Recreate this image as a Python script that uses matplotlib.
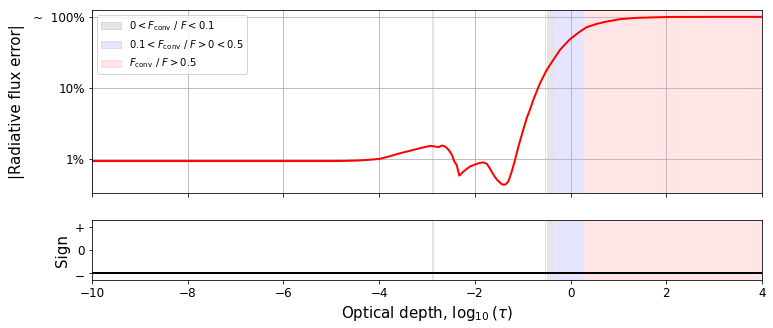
import numpy as np
import matplotlib
matplotlib.use('Agg')
import matplotlib.pyplot as plt
from matplotlib.patches import Patch
from matplotlib.ticker import NullLocator

# curve: log10(tau) vs |error| in percent
log_tau = [-10, -6, -5, -4.7, -4.4, -4.2, -3.98, -3.77, -3.56, -3.35, -3.15,
           -2.94, -2.85, -2.76, -2.69, -2.63, -2.58, -2.53, -2.48, -2.43, -2.38,
           -2.325, -2.28, -2.24, -2.17, -2.10, -1.96, -1.88, -1.82, -1.75,
           -1.70, -1.65, -1.60, -1.54, -1.44, -1.39, -1.35, -1.30, -1.23, -1.16,
           -1.09, -0.99, -0.917, -0.85, -0.778, -0.639, -0.499, -0.36, -0.221,
           -0.012, 0.197, 0.337, 0.546, 0.755, 1.03, 1.38, 2.01, 3.0, 4.0]
abs_err = [0.93, 0.93, 0.93, 0.935, 0.95, 0.97, 1.0, 1.09, 1.2, 1.3, 1.41,
           1.52, 1.5, 1.46, 1.54, 1.5, 1.41, 1.29, 1.14, 0.92, 0.82,
           0.58, 0.62, 0.66, 0.72, 0.78, 0.85, 0.88, 0.89, 0.85,
           0.76, 0.66, 0.58, 0.51, 0.44, 0.43, 0.44, 0.48, 0.66, 0.97,
           1.49, 2.56, 3.74, 4.9, 6.78, 11.6, 17.9, 24.8, 34.3,
           48.5, 62.1, 71.5, 79.7, 85.9, 92.7, 96.8, 99.5, 100, 100]
sign = [-1, -1]
sign_x = [-10, 4]

# convective flux regions (start, end)
gray_regions = [(-2.9, -2.86), (-0.54, -0.52), (-0.5, -0.34)]
blue_regions = [(-0.34, 0.29)]
red_regions = [(0.29, 4.0)]

fig = plt.figure(figsize=(773 / 72, 328 / 72), dpi=72)
ax = fig.add_axes([0.119, 0.4116, 0.8668, 0.558])
ax2 = fig.add_axes([0.119, 0.1463, 0.8668, 0.183], sharex=ax)

for a in (ax, ax2):
    for s, e in gray_regions:
        a.axvspan(s, e, color='k', alpha=0.1, lw=0)
    for s, e in blue_regions:
        a.axvspan(s, e, color='b', alpha=0.1, lw=0)
    for s, e in red_regions:
        a.axvspan(s, e, color='r', alpha=0.1, lw=0)

ax.plot(log_tau, abs_err, color='r', lw=2)
ax.set_yscale('log')
ax.set_ylim(0.33, 125)
ax.set_xlim(-10, 4)
ax.set_yticks([1, 10, 100])
ax.set_yticklabels(['1%', '10%', '~  100%'])
ax.yaxis.set_minor_locator(NullLocator())
ax.grid(True)
ax.tick_params(labelbottom=False, labelsize=12)
ax.set_ylabel('|Radiative flux error|', fontsize=15, labelpad=8)

handles = [Patch(color='k', alpha=0.1), Patch(color='b', alpha=0.1), Patch(color='r', alpha=0.1)]
labels = [r'$0 < F_\mathrm{conv}\ /\ F < 0.1$',
          r'$0.1 < F_\mathrm{conv}\ /\ F > 0 < 0.5$',
          r'$F_\mathrm{conv}\ /\ F > 0.5$']
ax.legend(handles, labels, loc='upper left', fontsize=10)

ax2.plot(sign_x, sign, color='k', lw=2)
ax2.set_ylim(-1.33, 1.33)
ax2.set_yticks([-1, 0, 1])
ax2.set_yticklabels(['$-$', '0', '+'])
ax2.set_xticks(np.arange(-10, 5, 2))
ax2.tick_params(labelsize=12)
ax2.set_ylabel('Sign', fontsize=15)
ax2.set_xlabel(r'Optical depth, $\log_{10}(\tau)$', fontsize=15)

fig.savefig('out.png', dpi=72)
